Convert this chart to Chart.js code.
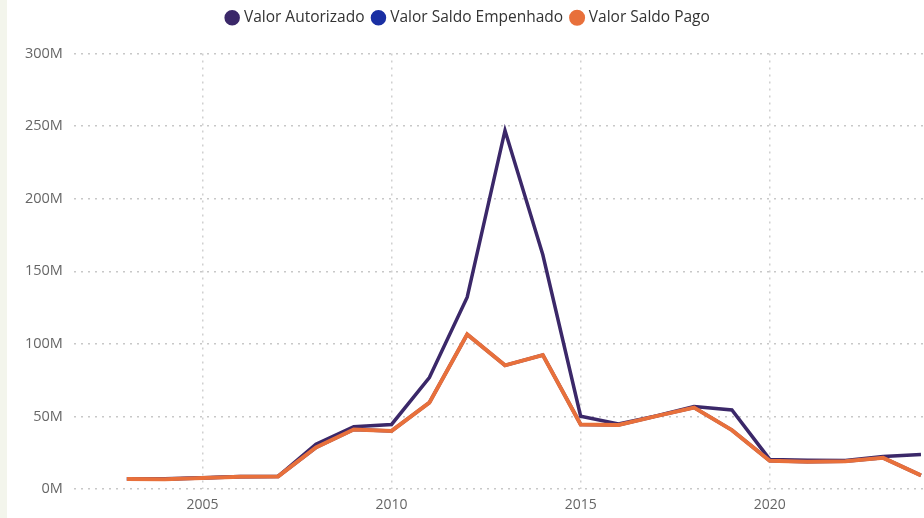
<!DOCTYPE html>
<html>
<head>
<meta charset="utf-8">
<script src="https://cdn.jsdelivr.net/npm/chart.js@4"></script>
<style>
  html, body { margin: 0; padding: 0; background: #ffffff; }
  #wrap { position: relative; width: 924px; height: 518px; }
  #strip { position: absolute; left: 0; top: 0; width: 7px; height: 518px; background: #f3f5ec; }
  canvas { position: absolute; left: 0; top: 0; }
</style>
</head>
<body>
<div id="wrap">
  <div id="strip"></div>
  <canvas id="c" width="924" height="518"></canvas>
</div>
<script>
const years = [2003, 2004, 2005, 2006, 2007, 2008, 2009, 2010, 2011, 2012, 2013, 2014, 2015, 2016, 2017, 2018, 2019, 2020, 2021, 2022, 2023, 2024];
// values in millions
const valorAutorizado = [7.2, 7.2, 7.9, 8.7, 8.9, 31.0, 43.0, 44.6, 76.9, 132.2, 247.0, 161.4, 50.3, 45.0, 50.5, 57.0, 54.6, 20.5, 19.9, 19.8, 22.5, 23.9];
const valorSaldoEmpenhado = [7.0, 6.8, 7.7, 8.6, 8.8, 28.7, 41.1, 40.1, 59.6, 106.6, 85.3, 92.4, 44.6, 44.2, 50.3, 56.2, 40.7, 19.6, 18.9, 19.3, 21.6, 9.5];
const valorSaldoPago = [7.0, 6.8, 7.7, 8.6, 8.8, 28.7, 41.1, 40.1, 59.6, 106.6, 85.3, 92.4, 44.6, 44.2, 50.3, 56.2, 40.7, 19.6, 18.9, 19.3, 21.6, 9.5];
const seriesNames = ['Valor Autorizado', 'Valor Saldo Empenhado', 'Valor Saldo Pago'];
const yTicks = [0, 50, 100, 150, 200, 250, 300];
const xTicks = [2005, 2010, 2015, 2020];

const toPoints = arr => arr.map((v, i) => ({ x: years[i], y: v * 1e6 }));
const FONT = "'Segoe UI', 'Open Sans', 'Noto Sans', sans-serif";

const legendGap = {
  id: 'legendGap',
  beforeInit(chart) {
    const fit = chart.legend.fit;
    chart.legend.fit = function () { fit.call(this); this.height += 18; };
  }
};

new Chart(document.getElementById('c'), {
  type: 'line',
  plugins: [legendGap],
  data: {
    datasets: [
      { label: seriesNames[0], data: toPoints(valorAutorizado), borderColor: '#3b2869', backgroundColor: '#3b2869', borderWidth: 3.5, pointRadius: 0, tension: 0, order: 3 },
      { label: seriesNames[1], data: toPoints(valorSaldoEmpenhado), borderColor: '#1a2fa3', backgroundColor: '#1a2fa3', borderWidth: 3.5, pointRadius: 0, tension: 0, order: 2 },
      { label: seriesNames[2], data: toPoints(valorSaldoPago), borderColor: '#e8703b', backgroundColor: '#e8703b', borderWidth: 4, pointRadius: 0, tension: 0, order: 1 }
    ]
  },
  options: {
    responsive: false,
    animation: false,
    layout: { padding: { left: 14, right: 0, top: 0, bottom: -2 } },
    plugins: {
      tooltip: { enabled: false },
      legend: {
        position: 'top',
        align: 'center',
        labels: {
          usePointStyle: true,
          pointStyle: 'circle',
          boxWidth: 8,
          boxHeight: 8.5,
          padding: 10,
          color: '#333333',
          font: { family: FONT, size: 15.5 },
          sort: (a, b) => a.datasetIndex - b.datasetIndex
        }
      }
    },
    scales: {
      x: {
        type: 'linear',
        min: 2001.6,
        max: 2024.08,
        afterBuildTicks: s => { s.ticks = xTicks.map(v => ({ value: v })); },
        ticks: { color: '#666666', font: { family: FONT, size: 14 }, padding: 7, callback: v => String(v) },
        grid: { color: '#d0d0d0', lineWidth: 1.5, drawTicks: false },
        border: { display: false, dash: [2, 5] }
      },
      y: {
        min: 0,
        max: 300e6,
        afterBuildTicks: s => { s.ticks = yTicks.map(v => ({ value: v * 1e6 })); },
        ticks: { color: '#666666', font: { family: FONT, size: 14.5 }, padding: 11, callback: v => (v / 1e6) + 'M' },
        grid: { color: '#c8c8c8', lineWidth: 1.5, drawTicks: false },
        border: { display: false, dash: [2, 5] }
      }
    }
  }
});
</script>
</body>
</html>
